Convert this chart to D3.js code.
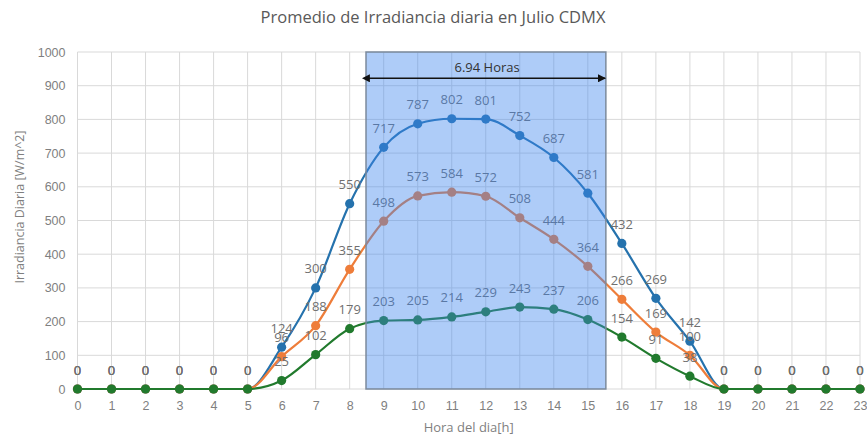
<!DOCTYPE html>
<html>
<head>
<meta charset="utf-8">
<script src="https://cdn.jsdelivr.net/npm/d3@7/dist/d3.min.js"></script>
<style>
  body { margin: 0; background: #fff; }
  svg { display: block; font-family: "Open Sans", "Noto Sans", sans-serif; }
</style>
</head>
<body>
<svg id="chart" width="867" height="439"></svg>
<script>
// Hourly average irradiance, July, Mexico City
const hours = d3.range(0, 24);
const serieAlta  = [0,0,0,0,0,0,124,300,550,717,787,802,801,752,687,581,432,269,142,0,0,0,0,0];
const serieMedia = [0,0,0,0,0,0,96,188,355,498,573,584,572,508,444,364,266,169,100,0,0,0,0,0];
const serieBaja  = [0,0,0,0,0,0,25,102,179,203,205,214,229,243,237,206,154,91,38,0,0,0,0,0];
const yTicks = d3.range(0, 1001, 100);

// Peak-sun window and its duration
const ventana = [8.48, 15.53];
const flechaInicio = 8.57;
const horasPico = 6.94;
const flechaNivel = 922;

const series = [
  { values: serieAlta,  color: "#2572ad" },
  { values: serieMedia, color: "#ee7d3a" },
  { values: serieBaja,  color: "#217a2d" }
];

const svg = d3.select("#chart");
const x = d3.scaleLinear().domain([0, 23]).range([77.5, 860]);
const y = d3.scaleLinear().domain([0, 1000]).range([389, 52]);

const labelColor = "#7f7f7f";

// Grid
const grid = svg.append("g");
grid.selectAll("line.h").data(yTicks).join("line")
  .attr("x1", x(0)).attr("x2", x(23))
  .attr("y1", d => y(d)).attr("y2", d => y(d))
  .attr("stroke", "#d9d9d9").attr("stroke-width", 1);
grid.selectAll("line.v").data(hours).join("line")
  .attr("x1", d => x(d)).attr("x2", d => x(d))
  .attr("y1", y(0)).attr("y2", y(1000))
  .attr("stroke", "#d9d9d9").attr("stroke-width", 1);

// Axes
const yAxis = d3.axisLeft(y).tickValues(yTicks).tickFormat(d3.format("d")).tickSize(0).tickPadding(12);
const gy = svg.append("g").attr("transform", `translate(${x(0)},0)`).call(yAxis);
gy.select(".domain").remove();
gy.selectAll("text").attr("fill", labelColor).style("font-size", "12.5px");

const xAxis = d3.axisBottom(x).tickValues(hours).tickFormat(d3.format("d")).tickSize(0).tickPadding(12);
const gx = svg.append("g").attr("transform", `translate(0,${y(0)})`).call(xAxis);
gx.select(".domain").remove();
gx.selectAll("text").attr("fill", labelColor).style("font-size", "12.5px");

// Lines and markers
const line = d3.line()
  .x((d, i) => x(hours[i]))
  .y(d => y(d))
  .curve(d3.curveMonotoneX);

series.forEach(s => {
  svg.append("path")
    .attr("d", line(s.values))
    .attr("fill", "none")
    .attr("stroke", s.color)
    .attr("stroke-width", 2.2);
  svg.append("g").selectAll("circle").data(s.values).join("circle")
    .attr("cx", (d, i) => x(hours[i]))
    .attr("cy", d => y(d))
    .attr("r", 4.6)
    .attr("fill", s.color);
});

// Data labels
series.forEach(s => {
  svg.append("g").selectAll("text").data(s.values).join("text")
    .attr("x", (d, i) => x(hours[i]))
    .attr("y", d => y(d) - 14.5)
    .attr("text-anchor", "middle")
    .attr("fill", "#6f6f6f")
    .style("font-size", "13px")
    .text(d => d);
});

// Peak-sun window overlay
svg.append("rect")
  .attr("x", x(ventana[0]))
  .attr("y", y(1000))
  .attr("width", x(ventana[1]) - x(ventana[0]))
  .attr("height", y(0) - y(1000))
  .attr("fill", "#3f86ee")
  .attr("fill-opacity", 0.42)
  .attr("stroke", "#7c8a9c")
  .attr("stroke-width", 1.5);

// Duration arrow
const defs = svg.append("defs");
["start", "end"].forEach(k => {
  defs.append("marker")
    .attr("id", "arrow-" + k)
    .attr("viewBox", "0 0 10 10")
    .attr("refX", k === "end" ? 9 : 1).attr("refY", 5)
    .attr("markerWidth", 5).attr("markerHeight", 5)
    .attr("orient", k === "end" ? "auto" : "auto-start-reverse")
    .append("path")
    .attr("d", "M0,0 L10,5 L0,10 z")
    .attr("fill", "#111");
});
svg.append("line")
  .attr("x1", x(flechaInicio)).attr("x2", x(flechaInicio + horasPico))
  .attr("y1", y(flechaNivel)).attr("y2", y(flechaNivel))
  .attr("stroke", "#111").attr("stroke-width", 1.6)
  .attr("marker-start", "url(#arrow-start)")
  .attr("marker-end", "url(#arrow-end)");
svg.append("text")
  .attr("x", x(flechaInicio + horasPico / 2))
  .attr("y", y(flechaNivel) - 6)
  .attr("text-anchor", "middle")
  .attr("fill", "#333")
  .style("font-size", "13px")
  .text(horasPico.toFixed(2) + " Horas");

// Titles
svg.append("text")
  .attr("x", 433).attr("y", 23)
  .attr("text-anchor", "middle")
  .attr("fill", "#595959")
  .style("font-size", "16.5px")
  .text("Promedio de Irradiancia diaria en Julio CDMX");

svg.append("text")
  .attr("transform", `translate(24,207) rotate(-90)`)
  .attr("text-anchor", "middle")
  .attr("fill", labelColor)
  .style("font-size", "12.5px")
  .text("Irradiancia Diaria [W/m^2]");

svg.append("text")
  .attr("x", (x(0) + x(23)) / 2).attr("y", 432)
  .attr("text-anchor", "middle")
  .attr("fill", labelColor)
  .style("font-size", "13px")
  .text("Hora del dia[h]");
</script>
</body>
</html>
